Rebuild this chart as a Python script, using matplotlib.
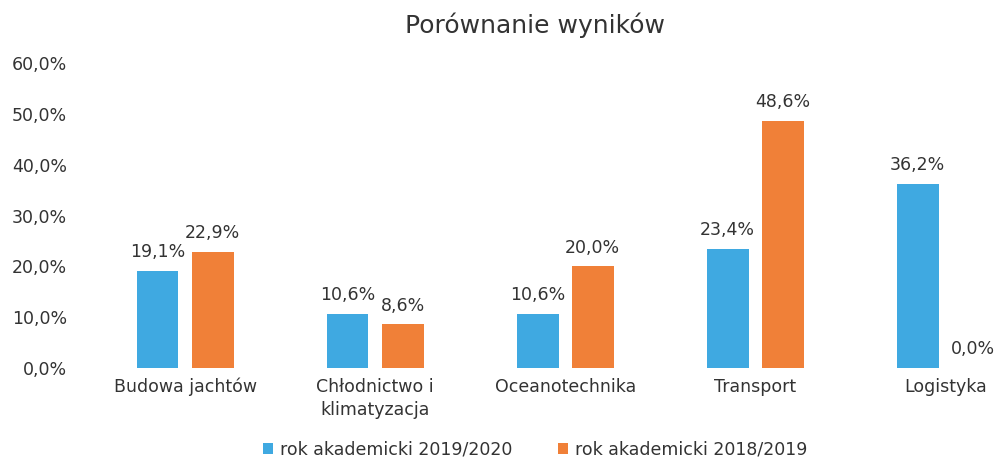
import matplotlib
matplotlib.use('Agg')
import matplotlib.pyplot as plt
import numpy as np
from matplotlib.ticker import FuncFormatter

categories = ['Budowa jachtów', 'Chłodnictwo i\nklimatyzacja', 'Oceanotechnika', 'Transport', 'Logistyka']
series_2019 = [19.1, 10.6, 10.6, 23.4, 36.2]  # rok akademicki 2019/2020
series_2018 = [22.9, 8.6, 20.0, 48.6, 0.0]    # rok akademicki 2018/2019
names = ['rok akademicki 2019/2020', 'rok akademicki 2018/2019']
colors = ['#3fa9e1', '#f08038']
yticks = [0, 10, 20, 30, 40, 50, 60]

plt.rcParams['font.family'] = ['DejaVu Sans']
txt = '#333333'
fs = 12.5

fig = plt.figure(figsize=(9.95, 4.59), dpi=100)
ax = fig.add_axes([0.0905, 0.198, 0.955, 0.665])

x = np.arange(len(categories))
w = 0.22
off = 0.145
b1 = ax.bar(x - off, series_2019, w, color=colors[0], label=names[0])
b2 = ax.bar(x + off, series_2018, w, color=colors[1], label=names[1])

for bars, vals in [(b1, series_2019), (b2, series_2018)]:
    for r, v in zip(bars, vals):
        ax.annotate(('%.1f' % v).replace('.', ',') + '%',
                    (r.get_x() + r.get_width() / 2, v), xytext=(0, 7),
                    textcoords='offset points', ha='center', va='bottom',
                    fontsize=fs, color=txt)

ax.set_ylim(0, 60)
ax.set_xlim(-0.5, len(categories) - 0.5)
ax.set_yticks(yticks)
ax.yaxis.set_major_formatter(FuncFormatter(lambda v, p: ('%.1f' % v).replace('.', ',') + '%'))
ax.set_xticks(x)
ax.set_xticklabels(categories, fontsize=fs, color=txt, linespacing=1.4)
ax.tick_params(axis='y', labelsize=fs, labelcolor=txt, length=0, pad=16.5)
ax.tick_params(axis='x', length=0, pad=7)
for s in ax.spines.values():
    s.set_visible(False)

fig.text(0.538, 0.945, 'Porównanie wyników', ha='center', va='center', fontsize=18, color=txt)

fig.legend(handles=[b1, b2], loc='center', bbox_to_anchor=(0.538, 0.02), ncol=2, frameon=False,
           fontsize=fs, handlelength=0.6, handleheight=0.6, handletextpad=0.4,
           columnspacing=2.6, labelcolor=txt)

fig.savefig('out.png', dpi=100)
